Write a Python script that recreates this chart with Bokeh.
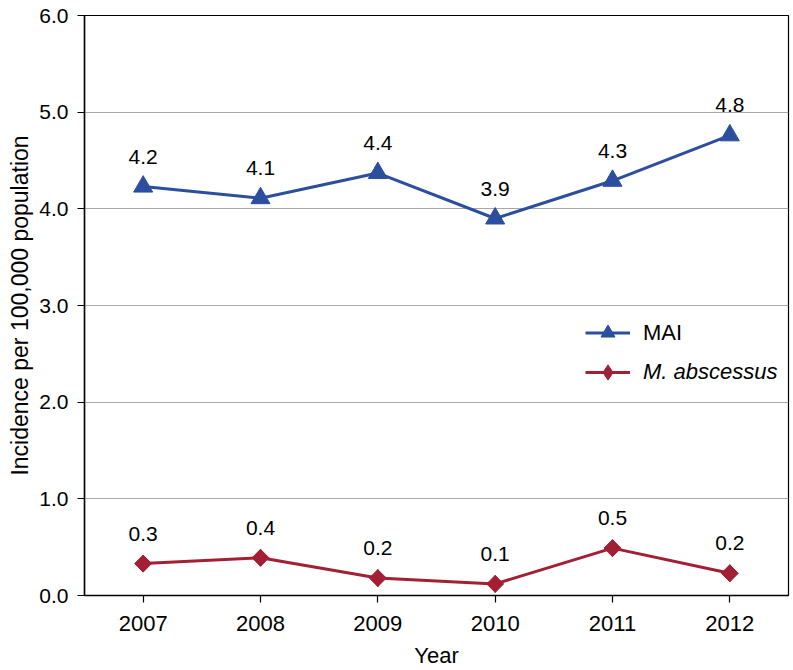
import math
from bokeh.plotting import figure
from bokeh.models import (ColumnDataSource, Range1d, FixedTicker, Legend, LegendItem,
                          CustomJSTickFormatter)
from bokeh.core.properties import value
from bokeh.embed import file_html
from bokeh.resources import INLINE

years = [2007, 2008, 2009, 2010, 2011, 2012]
year_labels = ["2007", "2008", "2009", "2010", "2011", "2012"]
mai = [4.23, 4.11, 4.37, 3.90, 4.29, 4.76]
mai_labels = ["4.2", "4.1", "4.4", "3.9", "4.3", "4.8"]
absc = [0.33, 0.39, 0.18, 0.12, 0.49, 0.23]
absc_labels = ["0.3", "0.4", "0.2", "0.1", "0.5", "0.2"]
y_ticks = [0, 1, 2, 3, 4, 5, 6]

BLUE = "#2B4E9F"
RED = "#A31F33"
FONT = "Liberation Sans"

p = figure(width=790, height=670, output_backend="svg", toolbar_location=None,
           x_range=Range1d(2006.5, 2012.5), y_range=Range1d(0, 6),
           min_border_left=84, min_border_right=2, min_border_top=15, min_border_bottom=74)
p.background_fill_color = "white"
p.border_fill_color = "white"
p.outline_line_color = "black"
p.outline_line_width = 1.2

# axes
p.xaxis.ticker = FixedTicker(ticks=years)
p.xaxis.major_label_overrides = {y: s for y, s in zip(years, year_labels)}
p.yaxis.ticker = FixedTicker(ticks=y_ticks)
p.yaxis.formatter = CustomJSTickFormatter(code="return tick.toFixed(1);")
for ax in (p.xaxis[0], p.yaxis[0]):
    ax.axis_line_color = "black"
    ax.axis_line_width = 1.5
    ax.major_tick_line_color = "black"
    ax.major_tick_line_width = 1.2
    ax.major_tick_out = 7
    ax.major_tick_in = 0
    ax.minor_tick_line_color = None
    ax.major_label_text_font = FONT
    ax.major_label_text_color = "black"
    ax.axis_label_text_font = FONT
    ax.axis_label_text_font_style = "normal"
    ax.axis_label_text_color = "black"
p.xaxis.major_label_text_font_size = "22px"
p.yaxis.major_label_text_font_size = "21px"
p.xaxis.major_label_standoff = 13
p.yaxis.major_label_standoff = 9
p.xaxis.axis_label = "Year"
p.yaxis.axis_label = "Incidence per 100,000 population"
p.xaxis.axis_label_text_font_size = "22px"
p.yaxis.axis_label_text_font_size = "23px"
p.xaxis.axis_label_standoff = 9
p.yaxis.axis_label_standoff = 3

p.xgrid.grid_line_color = None
p.ygrid.grid_line_color = "#A8A8A8"
p.ygrid.grid_line_width = 1

src_mai = ColumnDataSource(dict(x=years, y=mai, t=mai_labels))
src_abs = ColumnDataSource(dict(x=years, y=absc, t=absc_labels))

l1 = p.line("x", "y", source=src_mai, line_color=BLUE, line_width=3)
m1 = p.scatter("x", "y", source=src_mai, marker="triangle", size=19,
               fill_color=BLUE, line_color=BLUE)
l2 = p.line("x", "y", source=src_abs, line_color=RED, line_width=3)
m2 = p.scatter("x", "y", source=src_abs, marker="square", size=12, angle=math.pi / 4,
               fill_color=RED, line_color=RED)
m2d = p.scatter("x", "y", source=src_abs, marker="diamond", size=17,
                fill_color=RED, line_color=RED)

for src in (src_mai, src_abs):
    p.text("x", "y", text="t", source=src, text_align="center", text_baseline="middle",
           y_offset=-30, text_font=value(FONT), text_font_size="21px", text_color="black")

def make_legend(label, renderers, loc, style, gh):
    lg = Legend(items=[LegendItem(label=label, renderers=renderers)], location=loc,
                orientation="vertical", glyph_width=45, glyph_height=gh, label_height=gh,
                label_standoff=13, padding=0, margin=0, spacing=0,
                label_text_font=FONT, label_text_font_size="22px",
                label_text_font_style=style, label_text_color="black",
                background_fill_alpha=0, border_line_color=None)
    return lg

p.add_layout(make_legend("MAI", [l1, m1], (501, 245), "normal", 35), "center")
p.add_layout(make_legend("M. abscessus", [l2, m2d], (501, 204), "italic", 38), "center")

open("out.html", "w").write(file_html(p, INLINE))
